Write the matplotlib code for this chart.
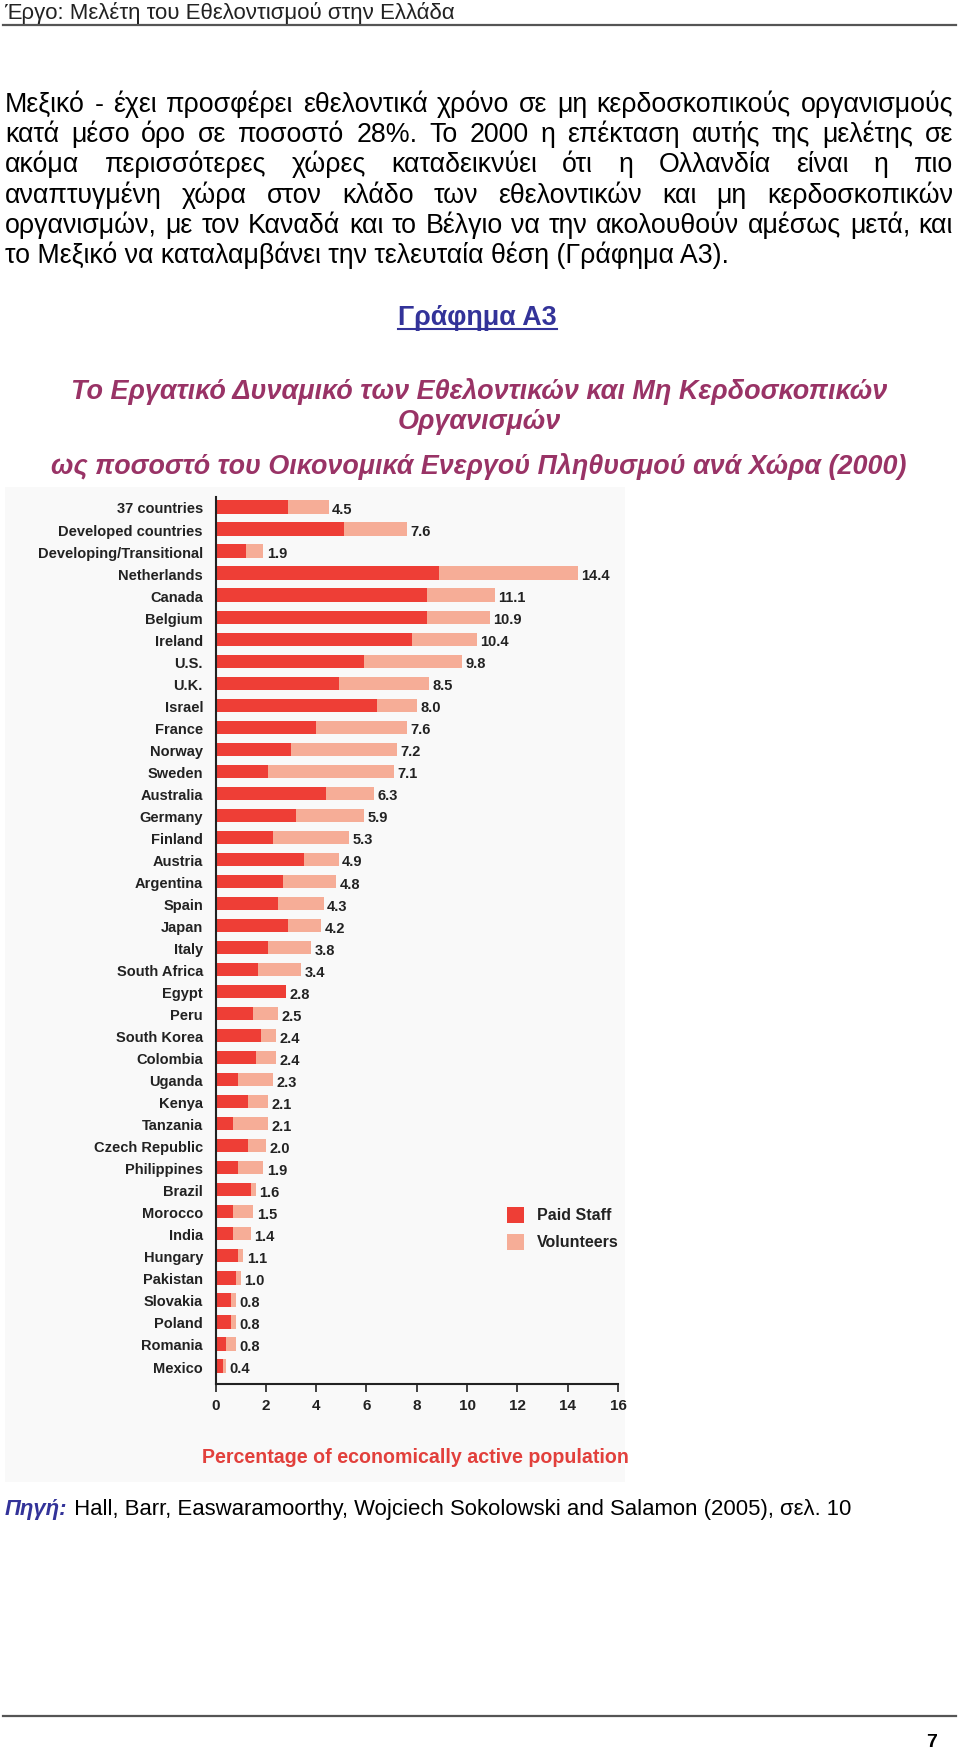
import matplotlib
matplotlib.use('Agg')
import matplotlib.pyplot as plt
from matplotlib.patches import Rectangle
from matplotlib.lines import Line2D
import numpy as np

# ---------------- data ----------------
categories = ["37 countries", "Developed countries", "Developing/Transitional",
              "Netherlands", "Canada", "Belgium", "Ireland", "U.S.", "U.K.", "Israel",
              "France", "Norway", "Sweden", "Australia", "Germany", "Finland", "Austria",
              "Argentina", "Spain", "Japan", "Italy", "South Africa", "Egypt", "Peru",
              "South Korea", "Colombia", "Uganda", "Kenya", "Tanzania", "Czech Republic",
              "Philippines", "Brazil", "Morocco", "India", "Hungary", "Pakistan",
              "Slovakia", "Poland", "Romania", "Mexico"]
paid_staff = [2.9, 5.1, 1.2, 8.9, 8.4, 8.4, 7.8, 5.9, 4.9, 6.4,
              4.0, 3.0, 2.1, 4.4, 3.2, 2.3, 3.5, 2.7, 2.5, 2.9,
              2.1, 1.7, 2.8, 1.5, 1.8, 1.6, 0.9, 1.3, 0.7, 1.3,
              0.9, 1.4, 0.7, 0.7, 0.9, 0.8, 0.6, 0.6, 0.4, 0.3]
volunteers = [1.6, 2.5, 0.7, 5.5, 2.7, 2.5, 2.6, 3.9, 3.6, 1.6,
              3.6, 4.2, 5.0, 1.9, 2.7, 3.0, 1.4, 2.1, 1.8, 1.3,
              1.7, 1.7, 0.0, 1.0, 0.6, 0.8, 1.4, 0.8, 1.4, 0.7,
              1.0, 0.2, 0.8, 0.7, 0.2, 0.2, 0.2, 0.2, 0.4, 0.1]
total_labels = ["4.5", "7.6", "1.9", "14.4", "11.1", "10.9", "10.4", "9.8", "8.5", "8.0",
                "7.6", "7.2", "7.1", "6.3", "5.9", "5.3", "4.9", "4.8", "4.3", "4.2",
                "3.8", "3.4", "2.8", "2.5", "2.4", "2.4", "2.3", "2.1", "2.1", "2.0",
                "1.9", "1.6", "1.5", "1.4", "1.1", "1.0", "0.8", "0.8", "0.8", "0.4"]
x_ticks = [0, 2, 4, 6, 8, 10, 12, 14, 16]
series_names = ["Paid Staff", "Volunteers"]

header = "Έργο: Μελέτη του Εθελοντισμού στην Ελλάδα"
paragraph = [
    "Μεξικό - έχει προσφέρει εθελοντικά χρόνο σε μη κερδοσκοπικούς οργανισμούς",
    "κατά μέσο όρο σε ποσοστό 28%. Το 2000 η επέκταση αυτής της μελέτης σε",
    "ακόμα περισσότερες χώρες καταδεικνύει ότι η Ολλανδία είναι η πιο",
    "αναπτυγμένη χώρα στον κλάδο των εθελοντικών και μη κερδοσκοπικών",
    "οργανισμών, με τον Καναδά και το Βέλγιο να την ακολουθούν αμέσως μετά, και",
    "το Μεξικό να καταλαμβάνει την τελευταία θέση (Γράφημα Α3).",
]
figure_label = "Γράφημα Α3"
title_lines = ["Το Εργατικό Δυναμικό των Εθελοντικών και Μη Κερδοσκοπικών",
               "Οργανισμών",
               "ως ποσοστό του Οικονομικά Ενεργού Πληθυσμού ανά Χώρα (2000)"]
x_title = "Percentage of economically active population"
source_label = "Πηγή:"
source_text = " Hall, Barr, Easwaramoorthy, Wojciech Sokolowski and Salamon (2005), σελ. 10"
page_number = "7"

# ---------------- style ----------------
RED = '#EE3E36'
PINK = '#F6AD97'
PURPLE = '#993366'
NAVY = '#333399'
BODY = ['Liberation Sans', 'DejaVu Sans']
NARROW = ['Liberation Sans', 'DejaVu Sans']

W, H, DPI = 960, 1749, 100
fig = plt.figure(figsize=(W / DPI, H / DPI), dpi=DPI)
fig.patch.set_facecolor('white')
renderer = fig.canvas.get_renderer()


def fx(x):
    return x / W


def fy(y):
    return 1 - y / H


def width_of(t):
    return t.get_window_extent(renderer).width


def fit(t, target):
    t.set_fontsize(t.get_fontsize() * target / width_of(t))
    return t


# header and rules
t = fig.text(fx(4), fy(19), header, family=BODY, fontsize=13.5, color='#222222', va='baseline')
fit(t, 452)
fig.add_artist(Line2D([fx(3), fx(956)], [fy(26), fy(26)], color='#555555', lw=1.6))
fig.add_artist(Line2D([fx(3), fx(956)], [fy(1717), fy(1717)], color='#555555', lw=1.6))
fig.text(fx(937), fy(1747), page_number, family=BODY, fontsize=14, weight='bold',
         ha='right', va='baseline', color='black')

# justified paragraph
PSIZE = 15
probe = fig.text(0, 0, paragraph[-1], family=BODY, fontsize=PSIZE)
PSIZE = PSIZE * 727 / width_of(probe)
probe.remove()
x0, x1 = 5, 953
for i, line in enumerate(paragraph):
    yb = 112 + 30.2 * i
    if i == len(paragraph) - 1:
        fig.text(fx(x0), fy(yb), line, family=BODY, fontsize=PSIZE, va='baseline', color='black')
        continue
    words = line.split(' ')
    ts = [fig.text(0, fy(yb), w, family=BODY, fontsize=PSIZE, va='baseline', color='black')
          for w in words]
    ws = [width_of(tt) for tt in ts]
    gap = (x1 - x0 - sum(ws)) / (len(words) - 1)
    x = x0
    for tt, w in zip(ts, ws):
        tt.set_x(fx(x))
        x += w + gap

# figure label (underlined)
t = fig.text(fx(477), fy(325), figure_label, family=BODY, fontsize=16, weight='bold',
             color=NAVY, ha='center', va='baseline')
fit(t, 159)
fig.add_artist(Line2D([fx(398), fx(557)], [fy(330), fy(330)], color=NAVY, lw=1.5))

# titles
t = fig.text(fx(479), fy(399), title_lines[0], family=BODY, fontsize=16, weight='bold',
             style='italic', color=PURPLE, ha='center', va='baseline')
fit(t, 818)
fs_title = t.get_fontsize()
fig.text(fx(479), fy(429), title_lines[1], family=BODY, fontsize=fs_title, weight='bold',
         style='italic', color=PURPLE, ha='center', va='baseline')
t = fig.text(fx(479), fy(474), title_lines[2], family=BODY, fontsize=16, weight='bold',
             style='italic', color=PURPLE, ha='center', va='baseline')
fit(t, 854)

# faint chart-image background
fig.add_artist(Rectangle((fx(5), fy(1483)), fx(620), (1483 - 488) / H,
                         transform=fig.transFigure, facecolor='#f9f9f9', edgecolor='none',
                         zorder=-5))

# ---------------- chart ----------------
ax_left, ax_right, ax_top, ax_bottom = 215.5, 618, 498, 1385
ax = fig.add_axes([fx(ax_left), fy(ax_bottom), (ax_right - ax_left) / W,
                   (ax_bottom - ax_top) / H])
ax.patch.set_alpha(0)
y = np.arange(len(categories))
paid = np.array(paid_staff)
vol = np.array(volunteers)
ax.barh(y, paid, height=0.6, color=RED, label=series_names[0])
ax.barh(y, vol, left=paid, height=0.6, color=PINK, label=series_names[1])
for yi, p, v, lab in zip(y, paid, vol, total_labels):
    ax.annotate(lab, (p + v, yi), xytext=(2.5, -1.5), textcoords='offset points',
                va='center', ha='left', family=NARROW, fontsize=10.5, weight='bold',
                color='#222222')
ax.set_xlim(0, 16)
ax.set_ylim(39 + 18 / 22.03, -10 / 22.03)
ax.set_yticks(y, categories)
ax.set_xticks(x_ticks)
ax.tick_params(axis='y', length=0, pad=9)
ax.tick_params(axis='x', length=6, width=1.2, direction='out', pad=4, color='#222222')
for lab in ax.get_yticklabels():
    lab.set_family(NARROW)
    lab.set_fontweight('bold')
    lab.set_fontsize(10.5)
    lab.set_color('#222222')
for lab in ax.get_xticklabels():
    lab.set_family(NARROW)
    lab.set_fontweight('bold')
    lab.set_fontsize(11)
    lab.set_color('#222222')
for s in ['top', 'right']:
    ax.spines[s].set_visible(False)
for s in ['left', 'bottom']:
    ax.spines[s].set_linewidth(1.5)
    ax.spines[s].set_color('#222222')

# axis title
t = fig.text(fx(415), fy(1463), x_title, family=NARROW, fontsize=13, weight='bold',
             color='#E2403C', ha='center', va='baseline')
fit(t, 426)

# legend
for k, (name, col) in enumerate(zip(series_names, [RED, PINK])):
    yc = 1216 + 27 * k
    fig.add_artist(Rectangle((fx(507), fy(yc + 8)), 17 / W, 16 / H,
                             transform=fig.transFigure, facecolor=col, edgecolor='none'))
    fig.text(fx(537), fy(yc), name, family=NARROW, fontsize=11.5, weight='bold',
             color='#222222', va='center', ha='left')

# source line (sized so that it spans the same width as in the original)
SFS = 14
t1 = fig.text(fx(5), fy(1515), source_label, family=BODY, fontsize=SFS, weight='bold',
              style='italic', color=NAVY, va='baseline')
t2 = fig.text(fx(5), fy(1515), source_text, family=BODY, fontsize=SFS,
              color='black', va='baseline')
scale = 852 / (width_of(t1) + width_of(t2))
t1.set_fontsize(SFS * scale)
t2.set_fontsize(SFS * scale)
t2.set_x(fx(5 + width_of(t1)))

fig.savefig('out.png', dpi=DPI, facecolor='white')
